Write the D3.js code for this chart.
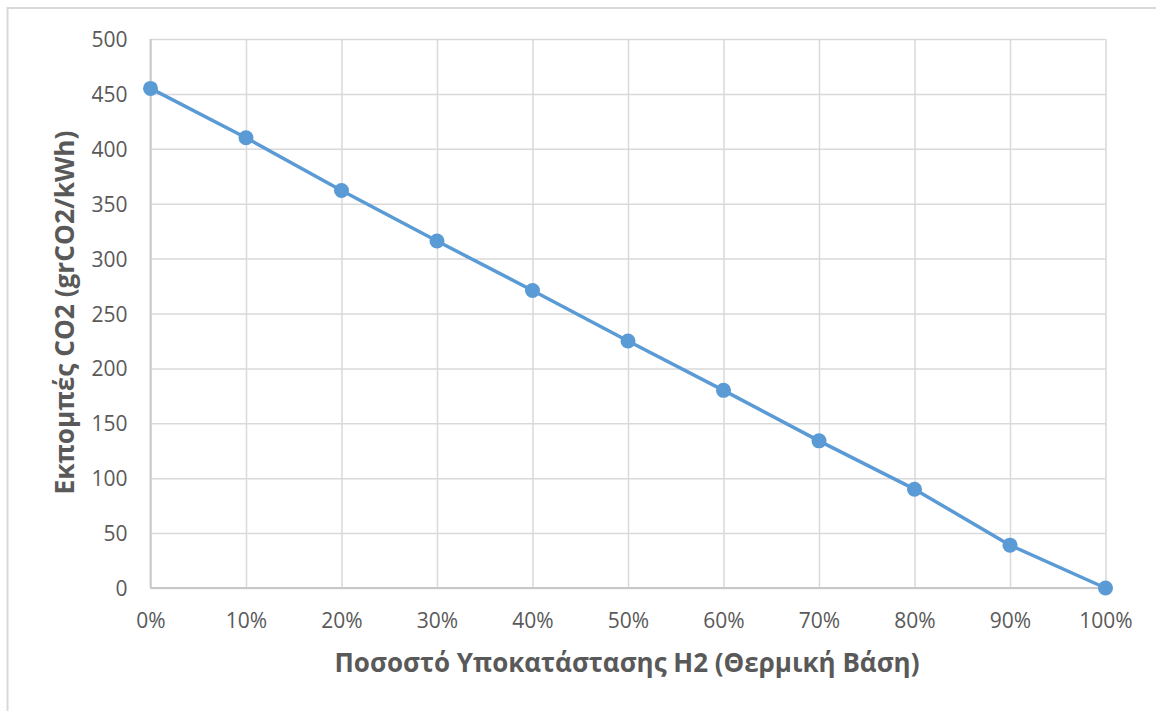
<!DOCTYPE html>
<html>
<head>
<meta charset="utf-8">
<script src="https://cdn.jsdelivr.net/npm/d3@7"></script>
<style>
  html, body { margin: 0; padding: 0; background: #fff; }
  svg { display: block; }
</style>
</head>
<body>
<svg id="chart" width="1156" height="711"></svg>
<script>
// Hydrogen substitution share (thermal basis) and resulting CO2 emissions
const shares = [0, 0.1, 0.2, 0.3, 0.4, 0.5, 0.6, 0.7, 0.8, 0.9, 1.0];
const emissions = [455, 410, 362, 316, 271, 225, 180, 134, 90, 39, 0];
const yTicks = [0, 50, 100, 150, 200, 250, 300, 350, 400, 450, 500];
const xTicks = [0, 0.1, 0.2, 0.3, 0.4, 0.5, 0.6, 0.7, 0.8, 0.9, 1.0];
const xTitle = "Ποσοστό Υποκατάστασης H2 (Θερμική Βάση)";
const yTitle = "Εκπομπές CO2 (grCO2/kWh)";

const svg = d3.select("#chart");
const W = 1156, H = 711;
const m = { left: 150.5, right: W - 1105.5, top: 39, bottom: H - 588 };

// outer chart frame (only top/left edges fall inside the view)
svg.append("rect")
  .attr("x", 7.5).attr("y", 8).attr("width", 1160).attr("height", 720)
  .attr("fill", "#fff").attr("stroke", "#d9d9d9").attr("stroke-width", 2);

const x = d3.scaleLinear().domain([0, 1]).range([m.left, W - m.right]);
const y = d3.scaleLinear().domain([0, 500]).range([H - m.bottom, m.top]);

const fontMain = "'Open Sans', 'Noto Sans', sans-serif";

// horizontal gridlines + y tick labels
const yAxis = d3.axisLeft(y).tickValues(yTicks).tickSize(-(W - m.left - m.right)).tickPadding(23)
  .tickFormat(d3.format("d"));
const gy = svg.append("g").attr("transform", `translate(${m.left},0)`).call(yAxis);
gy.select(".domain").remove();
gy.selectAll(".tick line").attr("stroke", "#d9d9d9").attr("stroke-width", 1.5);
gy.selectAll(".tick text").attr("fill", "#595959").attr("font-size", 21)
  .attr("font-family", fontMain).attr("dy", "0.36em");

// vertical gridlines + x tick labels
const xAxis = d3.axisBottom(x).tickValues(xTicks).tickSize(-(H - m.top - m.bottom)).tickPadding(25)
  .tickFormat(d3.format(".0%"));
const gx = svg.append("g").attr("transform", `translate(0,${H - m.bottom})`).call(xAxis);
gx.select(".domain").remove();
gx.selectAll(".tick line").attr("stroke", "#d9d9d9").attr("stroke-width", 1.5);
gx.selectAll(".tick text").attr("fill", "#595959").attr("font-size", 21)
  .attr("font-family", fontMain);

// axis baselines
svg.append("line").attr("x1", m.left).attr("x2", W - m.right)
  .attr("y1", y(0)).attr("y2", y(0)).attr("stroke", "#c8c8c8").attr("stroke-width", 1.8);
svg.append("line").attr("x1", m.left).attr("x2", m.left)
  .attr("y1", y(0)).attr("y2", y(500)).attr("stroke", "#c8c8c8").attr("stroke-width", 1.8);

// series line and markers
const pts = shares.map((s, i) => [s, emissions[i]]);
svg.append("path").datum(pts)
  .attr("fill", "none").attr("stroke", "#5b9bd5").attr("stroke-width", 3.5)
  .attr("stroke-linejoin", "round")
  .attr("d", d3.line().x(d => x(d[0])).y(d => y(d[1])));
svg.selectAll("circle.pt").data(pts).join("circle").attr("class", "pt")
  .attr("cx", d => x(d[0])).attr("cy", d => y(d[1])).attr("r", 7.5)
  .attr("fill", "#5b9bd5");

// axis titles
svg.append("text").text(xTitle)
  .attr("x", (m.left + W - m.right) / 2 - 1).attr("y", 672)
  .attr("text-anchor", "middle").attr("fill", "#595959")
  .attr("font-family", fontMain).attr("font-weight", "bold").attr("font-size", 27)
  .attr("textLength", 585).attr("lengthAdjust", "spacingAndGlyphs");
svg.append("text").text(yTitle)
  .attr("transform", `translate(74,${(m.top + H - m.bottom) / 2 - 1}) rotate(-90)`)
  .attr("text-anchor", "middle").attr("fill", "#595959")
  .attr("font-family", fontMain).attr("font-weight", "bold").attr("font-size", 27)
  .attr("textLength", 364).attr("lengthAdjust", "spacingAndGlyphs");
</script>
</body>
</html>
